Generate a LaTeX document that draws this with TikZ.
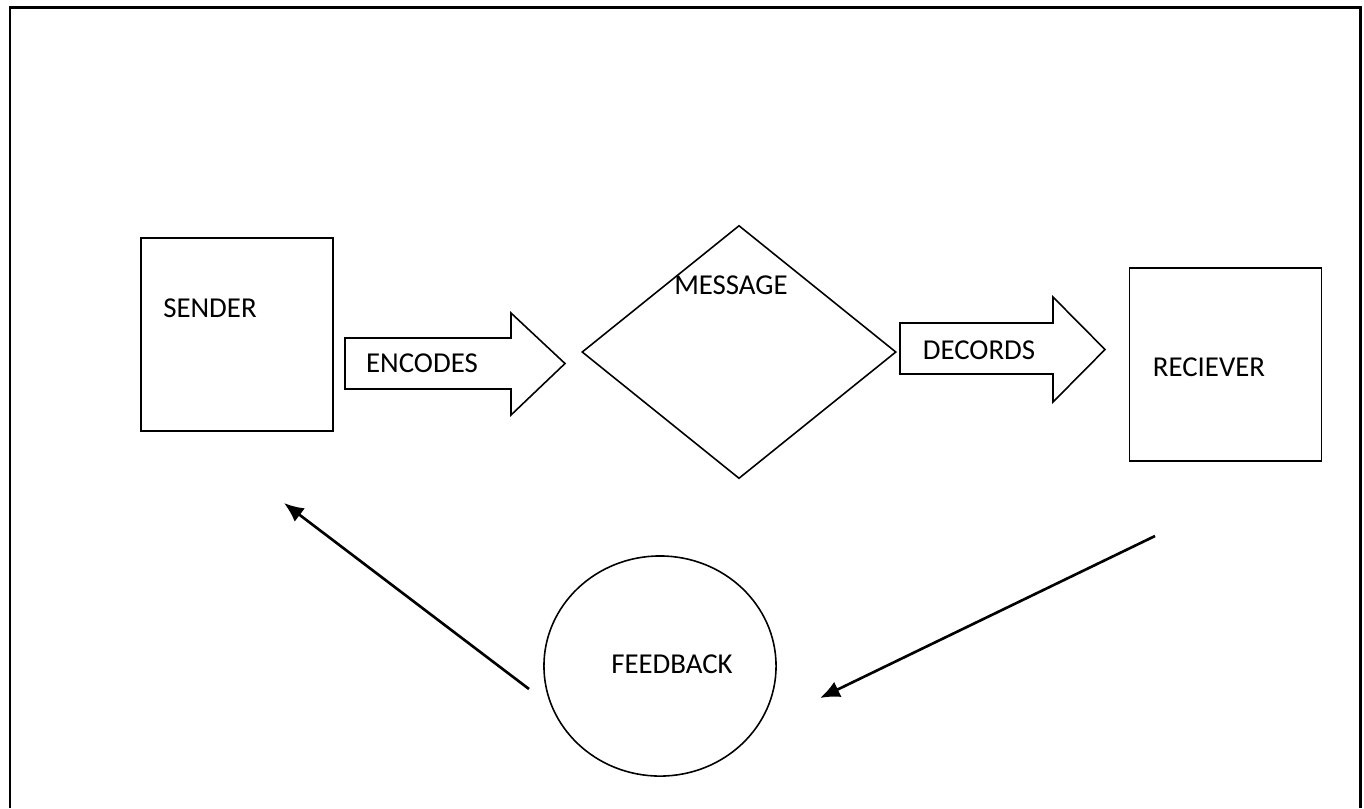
\documentclass[tikz,border=0pt]{standalone}
\usepackage{fontspec}
\setmainfont{Carlito}
\usetikzlibrary{arrows.meta}
\usetikzlibrary{shapes.geometric}
\usetikzlibrary{positioning}

\begin{document}
\begin{tikzpicture}[x=0.01cm, y=-0.01cm,
  every node/.style={font=\fontsize{8.2}{10}\selectfont},
  box/.style={rectangle, draw=black, line width=0.45pt, minimum width=1.92cm, minimum height=1.93cm, inner sep=0pt},
  lbl/.style={inner sep=0pt},
  fat/.style={draw=black, line width=0.45pt},
  back/.style={-{Latex[length=5.6pt,width=4.8pt]}, line width=0.75pt}]
\useasboundingbox (0,0) rectangle (1364,808);
\draw [line width=0.85pt] (10,808) -- (10,7) -- (1360,7) -- (1360,808);

\node [box] (S) at (237,334.5) {};
\node [lbl] (Stext) at (210,308) {SENDER};
\node [box] (R) at (1225.5,364.5) {};
\node [lbl] (Rtext) at (1209,367) {RECIEVER};
\node [diamond, draw=black, line width=0.45pt, minimum width=3.14cm, minimum height=2.53cm, inner sep=0pt] (M) at (739,352) {};
\node [lbl] (Mtext) at (731,285) {MESSAGE};
\node [ellipse, draw=black, line width=0.45pt, minimum width=2.32cm, minimum height=2.2cm, inner sep=0pt] (F) at (660,666) {};
\node [lbl] (Ftext) at (672,664) {FEEDBACK};

% block arrows
\draw [fat] (345,338) -- (511,338) -- (511,313) -- (565,363.5) -- (511,415) -- (511,389) -- (345,389) -- cycle;
\node [lbl] (Etext) at (422,363) {ENCODES};
\draw [fat] (900,323) -- (1053,323) -- (1053,297) -- (1105,349.5) -- (1053,402) -- (1053,374) -- (900,374) -- cycle;
\node [lbl] (Dtext) at (979,350) {DECORDS};

% feedback loop
\coordinate (sIn) at (284,503);
\coordinate (fOut) at (529,689);
\coordinate (rOut) at (1155,536);
\coordinate (fIn) at (820,698);
\draw [back] (fOut) -- (sIn);
\draw [back] (rOut) -- (fIn);
\end{tikzpicture}
\end{document}
